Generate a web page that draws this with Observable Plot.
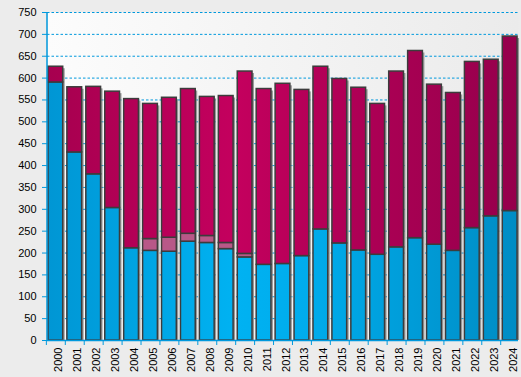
<!DOCTYPE html>
<html>
<head>
<meta charset="utf-8">
<script src="https://cdn.jsdelivr.net/npm/d3@7"></script>
<script src="https://cdn.jsdelivr.net/npm/@observablehq/plot@0.6"></script>
<style>
  html, body { margin: 0; padding: 0; background: #ececec; }
</style>
</head>
<body>
<div id="chart"></div>
<script>
const years = ["2000","2001","2002","2003","2004","2005","2006","2007","2008","2009","2010","2011","2012","2013","2014","2015","2016","2017","2018","2019","2020","2021","2022","2023","2024"];
const blueVals = [590,430,380,303,211,205,203,226,223,209,190,173,175,193,254,222,206,196,213,234,219,205,257,284,296];
const midVals  = [0,0,0,0,0,27,32,18,16,14,8,0,0,0,0,0,0,0,0,0,0,0,0,0,0];
const totals   = [626,579,580,569,552,541,555,575,557,559,615,575,587,573,626,598,578,541,615,662,585,566,637,642,695];
const yTicks = d3.range(0, 751, 50);

const rows = years.map((year, i) => ({year, blue: blueVals[i], mid: midVals[i], total: totals[i]}));

const BLUE = "#0099dd";
const OUTLINE = "#3c3c3c";

const leftLine = (index, scales, values, dimensions) => {
  const ns = "http://www.w3.org/2000/svg";
  const g = document.createElementNS(ns, "g");
  const line = document.createElementNS(ns, "line");
  line.setAttribute("x1", dimensions.marginLeft);
  line.setAttribute("x2", dimensions.marginLeft);
  line.setAttribute("y1", dimensions.marginTop);
  line.setAttribute("y2", dimensions.height - dimensions.marginBottom);
  line.setAttribute("stroke", BLUE);
  line.setAttribute("stroke-width", 1.5);
  g.appendChild(line);
  return g;
};

const chart = Plot.plot({
  width: 521,
  height: 377,
  marginLeft: 47,
  marginRight: 3,
  marginTop: 12,
  marginBottom: 37,
  style: {background: "#ececec", fontSize: "11px", fontFamily: "'Liberation Sans', Arial, sans-serif", color: "black"},
  x: {domain: years, paddingInner: 0.22, paddingOuter: 0.05, round: false, label: null},
  y: {domain: [0, 750], label: null},
  marks: [
    Plot.frame({fill: "url(#bgGrad)", stroke: "none"}),
    Plot.gridY(yTicks.slice(1), {stroke: BLUE, strokeOpacity: 1, strokeDasharray: "2.5,2"}),
    Plot.barY(rows, {x: "year", y1: 0, y2: "total", fill: "#7a7a7a", fillOpacity: 0.75, dx: 2, dy: 2, insetBottom: 2}),
    Plot.barY(rows, {x: "year", y1: 0, y2: "blue", fill: "url(#gBlue)", stroke: OUTLINE, strokeWidth: 1.5}),
    Plot.barY(rows.filter(d => d.mid > 0), {x: "year", y1: "blue", y2: d => d.blue + d.mid, fill: "#b85888", stroke: OUTLINE, strokeWidth: 1.5}),
    Plot.barY(rows, {x: "year", y1: d => d.blue + d.mid, y2: "total", fill: "url(#gMar)", stroke: OUTLINE, strokeWidth: 1.5}),
    Plot.ruleY([0], {stroke: BLUE, strokeWidth: 1.5}),
    leftLine,
    Plot.axisY(yTicks, {tickSize: 5, tickPadding: 6, stroke: BLUE, fill: "black"}),
    Plot.axisX({tickSize: 5, tickFormat: () => "", dx: -9.46, stroke: BLUE}),
    Plot.axisX({tickSize: 0, tickRotate: -90, tickPadding: 7, dx: 3, fill: "black"})
  ]
});

const ns = "http://www.w3.org/2000/svg";
const defs = document.createElementNS(ns, "defs");
defs.innerHTML = `
  <linearGradient id="bgGrad" gradientUnits="userSpaceOnUse" x1="47" y1="0" x2="518" y2="0">
    <stop offset="0" stop-color="#fcfcfc"/>
    <stop offset="1" stop-color="#ebebeb"/>
  </linearGradient>
  <linearGradient id="gBlue" gradientUnits="userSpaceOnUse" x1="47" y1="0" x2="518" y2="0">
    <stop offset="0" stop-color="#0096d4"/>
    <stop offset="0.4" stop-color="#00b2f2"/>
    <stop offset="0.55" stop-color="#00acec"/>
    <stop offset="1" stop-color="#008cc4"/>
  </linearGradient>
  <linearGradient id="gMar" gradientUnits="userSpaceOnUse" x1="47" y1="0" x2="518" y2="0">
    <stop offset="0" stop-color="#a6004f"/>
    <stop offset="0.4" stop-color="#c4005e"/>
    <stop offset="0.55" stop-color="#b60058"/>
    <stop offset="1" stop-color="#95004c"/>
  </linearGradient>`;
chart.insertBefore(defs, chart.firstChild);
document.getElementById("chart").appendChild(chart);
</script>
</body>
</html>
